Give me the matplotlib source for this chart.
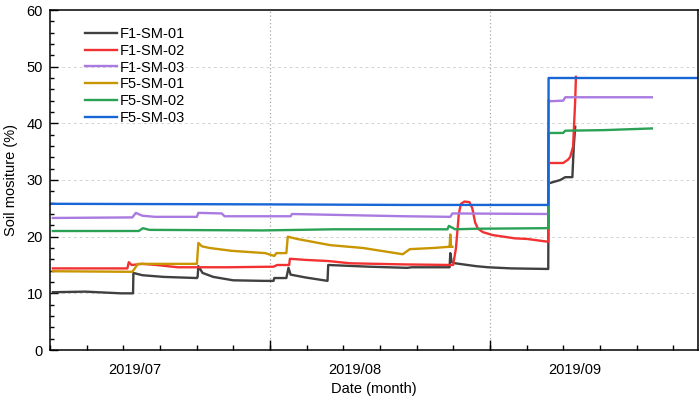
import numpy as np
import matplotlib
matplotlib.use('Agg')
import matplotlib.pyplot as plt

plt.rcParams['font.family'] = ['Liberation Sans', 'DejaVu Sans']

# x values are days counted from 2019-07-01
month_labels = ['2019/07', '2019/08', '2019/09']
month_label_days = [12, 43, 74]
month_starts = [31, 62]

f1_sm01_day = [0.4, 5, 10, 11.7, 11.75, 13, 16, 20.7, 20.8, 20.9, 21.5, 23, 25.8, 30, 31.5, 31.6, 33.3, 33.6, 33.9, 36,
               39.1, 39.2, 45, 50.3, 51, 56.3, 56.4, 56.6, 57.1, 60, 61.7, 65, 70.2, 70.25, 71.9, 72.6, 73.6, 73.8, 74.0]
f1_sm01_val = [10.2, 10.3, 10.0, 10.0, 13.6, 13.2, 12.9, 12.7, 12.9, 14.8, 13.6, 12.9, 12.3, 12.2, 12.2, 12.7, 12.7, 14.5, 13.3, 12.8,
               12.2, 15.0, 14.7, 14.5, 14.6, 14.6, 17.1, 15.5, 15.3, 14.8, 14.6, 14.4, 14.3, 29.4, 30.0, 30.5, 30.5, 36.0, 39.4]

f1_sm02_day = [0.4, 10.9, 11.1, 11.5, 13, 15, 18, 25, 31.5, 32, 33.7, 33.8, 36, 39.2, 42.3, 50, 56.8, 57.2, 57.6, 57.9, 58.4, 59.1,
               59.5, 59.9, 60.3, 61, 62.3, 65.5, 67.2, 70.2, 70.25, 72.3, 73.0, 73.3, 73.7, 74.0, 74.1]
f1_sm02_val = [14.4, 14.4, 15.5, 15.0, 15.2, 15.0, 14.6, 14.6, 14.7, 15.0, 15.0, 16.1, 15.9, 15.7, 15.3, 15.1, 15.0, 18.0, 24.0, 25.8, 26.2, 26.1,
               25.0, 22.5, 21.4, 20.8, 20.3, 19.7, 19.6, 19.1, 33.0, 33.0, 33.6, 34.1, 35.9, 44.1, 48.2]

f1_sm03_day = [0.4, 11.6, 12.1, 13, 14.8, 20.7, 20.9, 24.2, 24.6, 33.9, 34.1, 42, 50, 56.4, 56.7, 70.2, 70.25, 70.5, 72.3, 72.6, 84.8]
f1_sm03_val = [23.3, 23.4, 24.2, 23.7, 23.5, 23.5, 24.2, 24.1, 23.6, 23.6, 24.0, 23.8, 23.6, 23.5, 24.1, 24.0, 44.1, 43.9, 44.0, 44.6, 44.6]

f5_sm01_day = [0.4, 11.6, 12.4, 20.7, 20.9, 21.4, 22.5, 25.6, 30.3, 31.6, 31.9, 33.3, 33.5, 34.8, 39.5, 44.1, 49.7, 50.7, 54.0,
               56.1, 56.3, 56.4, 56.5, 56.7]
f5_sm01_val = [13.9, 13.8, 15.2, 15.2, 18.9, 18.3, 18.0, 17.5, 17.1, 16.6, 17.1, 17.1, 20.0, 19.6, 18.5, 18.0, 16.9, 17.8, 18.0,
               18.2, 18.2, 20.4, 18.2, 18.2]

f5_sm02_day = [0.4, 12.5, 13.1, 14, 30, 40, 56.0, 56.2, 57.1, 60, 70.2, 70.25, 72.3, 72.6, 78, 84.8]
f5_sm02_val = [21.0, 21.0, 21.5, 21.2, 21.1, 21.3, 21.3, 21.9, 21.3, 21.4, 21.5, 38.3, 38.3, 38.7, 38.8, 39.1]

f5_sm03_day = [0, 30, 50, 70.2, 70.25, 91.3]
f5_sm03_val = [25.8, 25.7, 25.6, 25.6, 48.0, 48.0]

series = [
    ('F1-SM-01', f1_sm01_day, f1_sm01_val, '#404040'),
    ('F1-SM-02', f1_sm02_day, f1_sm02_val, '#f23232'),
    ('F1-SM-03', f1_sm03_day, f1_sm03_val, '#a97ae0'),
    ('F5-SM-01', f5_sm01_day, f5_sm01_val, '#c99500'),
    ('F5-SM-02', f5_sm02_day, f5_sm02_val, '#2aa155'),
    ('F5-SM-03', f5_sm03_day, f5_sm03_val, '#1666d6'),
]

fig = plt.figure(figsize=(7, 3.99), dpi=100)
ax = fig.add_axes([50 / 700, 1 - 350 / 399, 648 / 700, 340 / 399])

for name, d, v, c in series:
    ax.plot(d, v, color=c, lw=1.7, label=name)

ax.set_xlim(0, 91.3)
ax.set_ylim(0, 60)

# grid
for y in [10, 20, 30, 40, 50]:
    ax.axhline(y, color='#d4d4d4', lw=0.7, ls=(0, (3, 3)), zorder=0)
for x in month_starts:
    ax.axvline(x, color='#a8a8a8', lw=0.9, ls=(0, (1, 2)), zorder=0)

# y ticks
ax.set_yticks(np.arange(0, 61, 10))
ax.set_yticks(np.arange(0, 61, 2), minor=True)
ax.tick_params(axis='y', which='major', direction='in', length=6, width=1, labelsize=10.5, pad=5)
ax.tick_params(axis='y', which='minor', direction='in', length=3, width=1)
ax.tick_params(right=False, top=False, which='both')

# x ticks: labels mid month, minor ticks every 1/6 month, longer ticks at month starts
ax.set_xticks(month_label_days)
ax.set_xticklabels(month_labels)
ax.set_xticks(np.arange(0, 91.3, 31 / 6), minor=True)
ax.tick_params(axis='x', which='major', length=0, labelsize=10.5, pad=9)
ax.tick_params(axis='x', which='minor', direction='in', length=3.5, width=1)
sec = ax.secondary_xaxis('bottom')
sec.set_xticks(month_starts)
sec.set_xticklabels([])
sec.tick_params(direction='in', length=7, width=1)
sec.spines['bottom'].set_visible(False)

for s in ax.spines.values():
    s.set_linewidth(1.1)

ax.set_xlabel('Date (month)', fontsize=10.5, labelpad=4)
ax.set_ylabel('Soil mositure (%)', fontsize=10.5, labelpad=6)

ax.legend(loc='upper left', bbox_to_anchor=(0.054, 0.95), frameon=False, fontsize=10.5,
          handlelength=2.2, handletextpad=0.2, labelspacing=0.19, borderpad=0, borderaxespad=0)

fig.savefig('out.png', dpi=100)
